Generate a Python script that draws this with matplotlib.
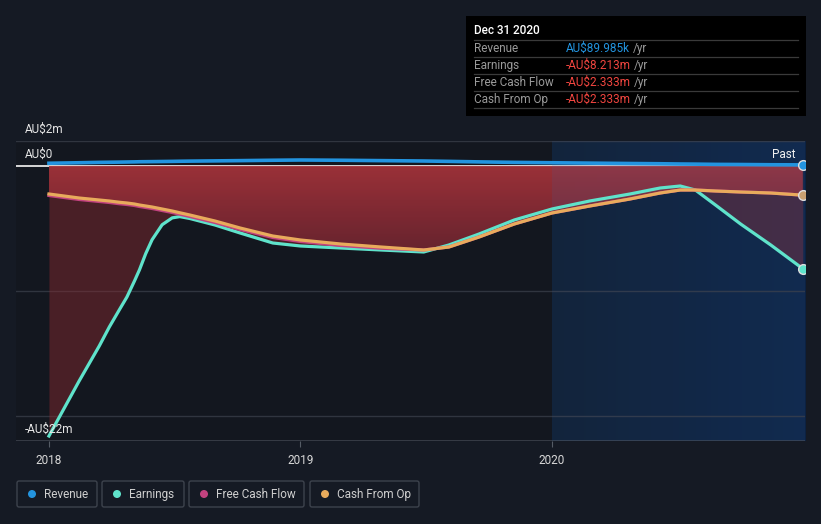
import numpy as np
import matplotlib
matplotlib.use('Agg')
import matplotlib.pyplot as plt
import matplotlib.transforms as mtransforms
from matplotlib.colors import LinearSegmentedColormap
from matplotlib.patches import PathPatch, Rectangle, FancyBboxPatch, Circle

plt.rcParams['font.family'] = ['Roboto', 'DejaVu Sans']

# ── data (AU$ millions, decimal years) ───────────────────────
years = [2018.00, 2018.12, 2018.20, 2018.24, 2018.28, 2018.31, 2018.34,
         2018.36, 2018.385, 2018.41, 2018.45, 2018.49, 2018.52, 2018.56,
         2018.66, 2018.76, 2018.89, 2019.00, 2019.16, 2019.32, 2019.49,
         2019.59, 2019.71, 2019.85, 2020.00, 2020.15, 2020.31, 2020.43,
         2020.51, 2020.57, 2020.65, 2020.75, 2020.87, 2020.997]
revenue = [0.22, 0.26, 0.29, 0.30, 0.31, 0.32, 0.33, 0.34, 0.345, 0.35,
           0.36, 0.37, 0.38, 0.39, 0.41, 0.43, 0.46, 0.48, 0.46, 0.43,
           0.40, 0.37, 0.33, 0.29, 0.26, 0.23, 0.20, 0.18, 0.16, 0.15,
           0.13, 0.12, 0.10, 0.09]
earnings = [-21.6, -17.2, -14.4, -12.88, -11.5, -10.48, -9.2, -8.3, -7.0,
            -5.9, -4.7, -4.15, -4.05, -4.2, -4.72, -5.36, -6.16, -6.40,
            -6.56, -6.72, -6.88, -6.32, -5.44, -4.32, -3.44, -2.80, -2.24,
            -1.76, -1.60, -1.92, -3.12, -4.64, -6.32, -8.213]
cash_op = [-2.24, -2.56, -2.72, -2.80, -2.90, -2.96, -3.04, -3.12, -3.20,
           -3.28, -3.44, -3.60, -3.74, -3.92, -4.40, -4.96, -5.60, -5.92,
           -6.24, -6.48, -6.72, -6.48, -5.68, -4.64, -3.76, -3.20, -2.64,
           -2.16, -1.92, -1.92, -2.00, -2.08, -2.16, -2.333]
free_cf = [-2.36, -2.68, -2.84, -2.92, -3.02, -3.08, -3.16, -3.24, -3.32,
           -3.40, -3.56, -3.72, -3.86, -4.04, -4.52, -5.08, -5.72, -6.04,
           -6.36, -6.58, -6.72, -6.48, -5.68, -4.64, -3.76, -3.20, -2.64,
           -2.16, -1.92, -1.92, -2.00, -2.08, -2.16, -2.333]

tooltip_rows = [('Revenue', 'AU$89.985k', '#2394df'),
                ('Earnings', '-AU$8.213m', '#f0453f'),
                ('Free Cash Flow', '-AU$2.333m', '#f0453f'),
                ('Cash From Op', '-AU$2.333m', '#f0453f')]
legend_items = [('Revenue', '#2394df'), ('Earnings', '#5fe3cb'),
                ('Free Cash Flow', '#c2427f'), ('Cash From Op', '#e8ab5c')]

C_REV, C_EARN, C_FCF, C_CFO = '#2394df', '#5fe3cb', '#c2427f', '#e8ab5c'
BG = '#151a24'

x = np.array(years)
XMIN, XMAX = 2017.869, 2021.006
YMIN, YMAX = -22, 2

fig = plt.figure(figsize=(8.21, 5.24), dpi=100, facecolor=BG)
ax = fig.add_axes([16 / 821, 1 - 441 / 524, 789 / 821, 300 / 524])
ax.set_facecolor('#13171f')
for s in ax.spines.values():
    s.set_visible(False)

# ── past region ─────────────────────────────────────────────
past = LinearSegmentedColormap.from_list('past', ['#0e1a2b', '#0c2242'])
ax.imshow(np.linspace(0, 1, 256).reshape(1, -1), cmap=past, aspect='auto',
          extent=[2020.0, XMAX, YMIN, YMAX], zorder=0.5)

# ── grid ────────────────────────────────────────────────────
for g in (2, -10, -20):
    ax.axhline(g, color='#30353f', linewidth=1, zorder=0.8)
ax.axhline(YMIN, color='#3c424c', linewidth=1.2, zorder=0.8)
ax.axhline(0, color='#e6e6e6', linewidth=1.3, zorder=0.9)

# ── fills ───────────────────────────────────────────────────
ax.fill_between(x, 0, earnings, color='#8b2a30', alpha=0.45,
                linewidth=0, zorder=1)
poly = ax.fill_between(x, 0, cash_op, color='none', linewidth=0)
clip = PathPatch(poly.get_paths()[0], transform=ax.transData,
                 facecolor='none', edgecolor='none')
ax.add_patch(clip)
redgrad = LinearSegmentedColormap.from_list('red', ['#a5333a', '#6a2430'])
im = ax.imshow(np.linspace(0, 1, 256).reshape(-1, 1), cmap=redgrad,
               aspect='auto', extent=[x[0], x[-1], -6.9, 0], alpha=0.9,
               zorder=1.2)
im.set_clip_path(clip)

# blue tint over the past region
ax.add_patch(Rectangle((2020.0, YMIN), XMAX - 2020.0, YMAX - YMIN,
                       facecolor='#3a6ab0', alpha=0.13, linewidth=0,
                       zorder=1.5))

# ── lines ───────────────────────────────────────────────────
ax.plot(x, earnings, color=C_EARN, linewidth=2.3, zorder=3,
        solid_joinstyle='round')
ax.plot(x, free_cf, color=C_FCF, linewidth=2.3, zorder=3.1)
ax.plot(x, cash_op, color=C_CFO, linewidth=2.3, zorder=3.2)
ax.plot(x, revenue, color=C_REV, linewidth=2.6, zorder=3.3)
for vals, col in [(revenue, C_REV), (earnings, C_EARN), (cash_op, '#c9a070')]:
    ax.plot(x[-1], vals[-1], 'o', color=col, markersize=7,
            markeredgecolor='#dddddd', markeredgewidth=1, zorder=4)

ax.set_xlim(XMIN, XMAX)
ax.set_ylim(YMIN, YMAX)
ax.set_yticks([])
ax.set_xticks([2018, 2019, 2020])
ax.set_xticklabels(['2018', '2019', '2020'])
ax.tick_params(axis='x', length=4, color='#555c66', labelcolor='#d8d8d8',
               labelsize=8.5, pad=5)

# y labels above their gridlines
blend = mtransforms.blended_transform_factory(ax.transAxes, ax.transData)
lab_tr = mtransforms.offset_copy(blend, fig=fig, x=0, y=3.5, units='points')
for val, txt in [(2, 'AU$2m'), (0, 'AU$0'), (-22, '-AU$22m')]:
    ax.text(9 / 789, val, txt, transform=lab_tr, color='#e6e6e6',
            fontsize=8.5, va='bottom', zorder=5)
ax.text(0.9885, 0, 'Past', transform=lab_tr, color='#f0f0f0',
        fontsize=8.5, ha='right', va='bottom', zorder=5)

# ── overlay in pixel coords: tooltip + legend ──────────────
ov = fig.add_axes([0, 0, 1, 1], facecolor='none')
ov.set_xlim(0, 821)
ov.set_ylim(524, 0)
ov.axis('off')

ov.add_patch(Rectangle((466, 16), 340, 100, facecolor='#000000',
                       edgecolor='none'))
ov.text(474, 31, 'Dec 31 2020', color='white', fontsize=8.5, va='center',
        fontweight='medium')
for yl in (40, 57, 74, 91, 108):
    ov.plot([474, 798], [yl, yl], color='#3a3a3a', linewidth=0.9)
renderer = fig.canvas.get_renderer()
for i, (lab, val, col) in enumerate(tooltip_rows):
    yc = 48.5 + i * 17
    ov.text(474, yc, lab, color='#9a9a9a', fontsize=8.5, va='center')
    t = ov.text(566, yc, val, color=col, fontsize=8.5, va='center')
    w = t.get_window_extent(renderer).width
    ov.text(566 + w + 3, yc, '/yr', color='#9a9a9a', fontsize=8.5,
            va='center')

box_x = [(17, 97), (102, 184), (189, 304), (310, 419)]
for (lab, col), (x0, x1) in zip(legend_items, box_x):
    ov.add_patch(FancyBboxPatch((x0, 481), x1 - x0, 26,
                                boxstyle='round,pad=0,rounding_size=2',
                                facecolor='none', edgecolor='#3d434d',
                                linewidth=1))
    ov.add_patch(Circle((x0 + 15, 494), 4, facecolor=col, edgecolor='none'))
    ov.text(x0 + 27, 494.5, lab, color='#cfcfcf', fontsize=8.5, va='center')

fig.savefig('out.png', dpi=100, facecolor=BG)
